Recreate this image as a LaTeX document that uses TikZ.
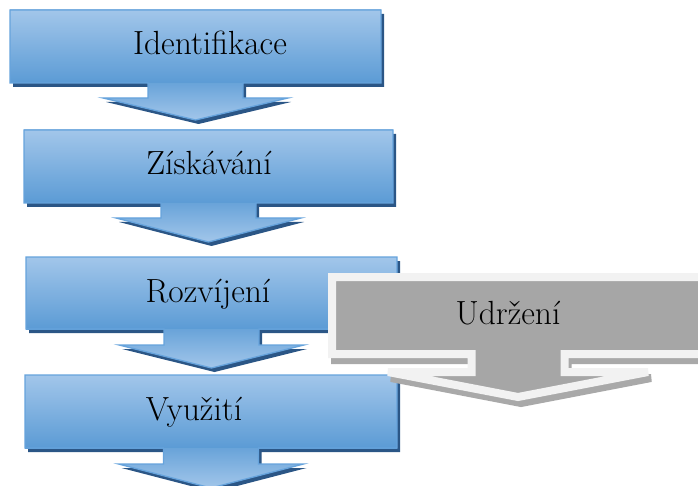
\documentclass[tikz,border=0pt]{standalone}
\usepackage{fontspec}

\definecolor{boxtop}{HTML}{A2C6EA}
\definecolor{boxbot}{HTML}{5B9BD5}
\definecolor{boxline}{HTML}{66A3DC}
\definecolor{boxshadow}{HTML}{2B5686}
\definecolor{greyfill}{HTML}{A6A6A6}
\definecolor{greyline}{HTML}{F2F2F2}
\definecolor{greyshadow}{HTML}{A9A9A9}

% outline of a box with a downward arrow below it
% #1 left, #2 right, #3 top, #4 box bottom, #5 wing line, #6 tip, #7 axis
\newcommand\calloutoutline[7]{%
  (#1,#3) -- (#2,#3) -- (#2,#4) -- ({#7+\stemhalf},#4) -- ({#7+\stemhalf},#5)
  -- ({#7+\winghalf},#5) -- (#7,#6) -- ({#7-\winghalf},#5) -- ({#7-\stemhalf},#5)
  -- ({#7-\stemhalf},#4) -- (#1,#4) -- cycle}

\newcommand\bluecallout[7]{%
  \fill[boxshadow, shift={(3,4)}] \calloutoutline{#1}{#2}{#3}{#4}{#5}{#6}{#7};
  \shade[top color=boxtop, bottom color=boxbot] (#1,#3) rectangle (#2,#4);
  \shade[top color=boxbot!80!boxtop, bottom color=boxtop]
    ({#7+\stemhalf},#4) -- ({#7+\stemhalf},#5) -- ({#7+\winghalf},#5) -- (#7,#6)
    -- ({#7-\winghalf},#5) -- ({#7-\stemhalf},#5) -- ({#7-\stemhalf},#4) -- cycle;
  \draw[boxline, line width=1.3] \calloutoutline{#1}{#2}{#3}{#4}{#5}{#6}{#7};
}

\tikzset{lbl/.style={anchor=base, inner sep=0pt, text=black,
  font=\fontsize{33.5}{40}\selectfont}}

\begin{document}
\begin{tikzpicture}[x=1pt, y=-1pt, line join=miter]
  \useasboundingbox (0,0) rectangle (698,486);
  \clip (0,0) rectangle (698,486);

  % blue stages
  \def\stemhalf{47.5}\def\winghalf{92.5}
  \bluecallout{10}{381}{10}{83}{98}{120}{195.5}
  \bluecallout{24}{393}{130}{203}{218}{242}{208.5}
  \bluecallout{26}{397}{257}{329}{345}{368}{211.5}
  \bluecallout{25}{397}{375}{448}{464}{488}{211}

  \node[lbl] (t1) at (210,55) {Identifikace};
  \node[lbl] (t2) at (209,175) {Získávání};
  \node[lbl] (t3) at (208,302) {Rozvíjení};
  \node[lbl] (t4) at (194,420) {Využití};

  % grey stage on the right
  \def\stemhalf{46.5}\def\winghalf{130}
  \filldraw[greyshadow, line width=8, shift={(3,6)}]
    \calloutoutline{332}{720}{277}{354}{372}{397}{518};
  \filldraw[fill=greyfill, draw=greyline, line width=8]
    \calloutoutline{332}{720}{277}{354}{372}{397}{518};
  \node[lbl] (t5) at (508,324) {Udržení};
\end{tikzpicture}
\end{document}
